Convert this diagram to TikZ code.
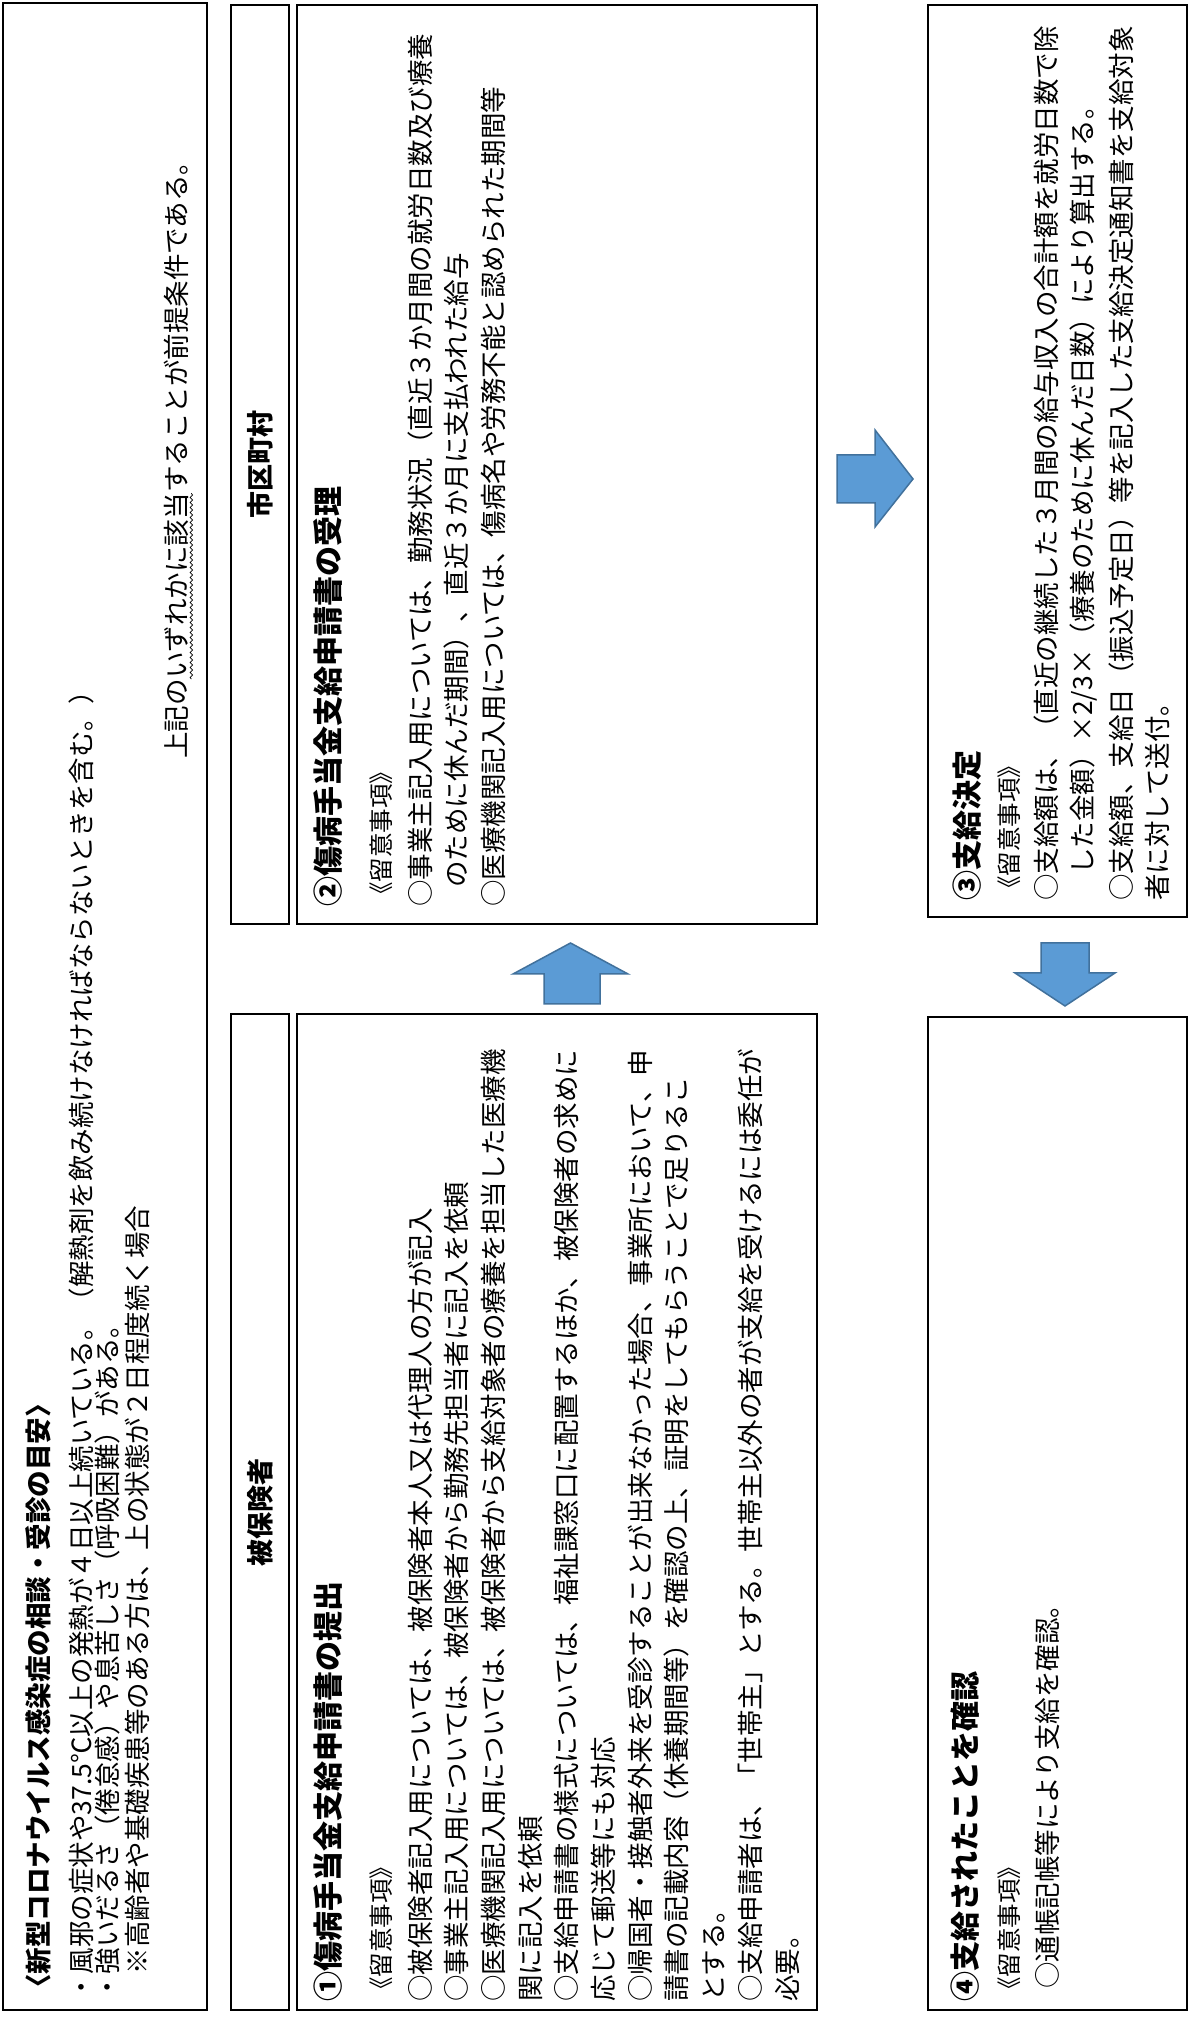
\documentclass[tikz,border=0pt]{standalone}
\usepackage{fontspec}
\newfontfamily\jp{Noto Sans CJK JP}
\usetikzlibrary{decorations.pathmorphing}
\definecolor{arrfill}{HTML}{5B9BD5}
\definecolor{arrline}{HTML}{41719C}
\tikzset{
  box/.style={draw, line width=1.6pt, inner sep=0pt, anchor=south west},
  bodyt/.style={anchor=base west, inner sep=0pt, font=\jp\fontsize{26.5}{30}\selectfont},
  titlet/.style={anchor=base west, inner sep=0pt, font=\jp\bfseries\fontsize{30}{34}\selectfont},
  infotitle/.style={anchor=base west, inner sep=0pt, font=\jp\bfseries\fontsize{26.5}{30}\selectfont},
  notet/.style={anchor=base west, inner sep=0pt, font=\jp\fontsize{24.5}{28}\selectfont},
  headt/.style={anchor=center, inner sep=0pt, font=\jp\bfseries\fontsize{27}{30}\selectfont},
  barrow/.style={fill=arrfill, draw=arrline, line width=1.5pt, line join=miter},
  wavy/.style={decorate, decoration={snake, amplitude=1.2pt, segment length=5pt}, line width=0.7pt}
}
\begin{document}
\begin{tikzpicture}[x=1pt,y=1pt]
\begin{scope}[shift={(1193,0)}, rotate=90, transform shape]
  \fill[white] (0,0) rectangle (2021,1193);
  \useasboundingbox (0,0) rectangle (2021,1193);

  % boxes
  \node[box, minimum width=2007, minimum height=204] (info) at (10,985) {};
  \node[box, minimum width=919, minimum height=58] (h2) at (1096,903) {};
  \node[box, minimum width=919, minimum height=520] (b2) at (1096,375) {};
  \node[box, minimum width=996, minimum height=58] (h1) at (10,903) {};
  \node[box, minimum width=996, minimum height=520] (b1) at (10,375) {};
  \node[box, minimum width=912, minimum height=259] (b3) at (1103,5) {};
  \node[box, minimum width=993, minimum height=259] (b4) at (10,5) {};

  % info box text
  \node[infotitle] (i0) at (20,1145) {〈新型コロナウイルス感染症の相談・受診の目安〉};
  \node[bodyt] (i1) at (20,1102) {・風邪の症状や37.5℃以上の発熱が４日以上続いている。（解熱剤を飲み続けなければならないときを含む。）};
  \node[bodyt] (i2) at (20,1076) {・強いだるさ（倦怠感）や息苦しさ（呼吸困難）がある。};
  \node[bodyt] (i3) at (20,1046) {　※高齢者や基礎疾患等のある方は、上の状態が２日程度続く場合};
  \node[bodyt] (u1) at (1262,1007) {上記の};
  \node[bodyt, inner ysep=3pt] (u2) at (u1.base east) {いずれかに該当};
  \node[bodyt] (u3) at (u2.base east) {することが前提条件である。};
  \draw[wavy] (u2.south west) -- (u2.south east);

  % headers
  \node[headt] (h2t) at (h2.center) {市区町村};
  \node[headt] (h1t) at (h1.center) {被保険者};

  % box 1
  \node[titlet] (a0) at (19,854) {①傷病手当金支給申請書の提出};
  \node[notet] (a1) at (19,803) {《留意事項》};
  \node[bodyt] (a2) at (19,763) {○被保険者記入用については、被保険者本人又は代理人の方が記入};
  \node[bodyt] (a3) at (19,726.3) {○事業主記入用については、被保険者から勤務先担当者に記入を依頼};
  \node[bodyt] (a4) at (19,689.6) {○医療機関記入用については、被保険者から支給対象者の療養を担当した医療機};
  \node[bodyt] (a5) at (19,652.9) {関に記入を依頼};
  \node[bodyt] (a6) at (19,616.2) {○支給申請書の様式については、福祉課窓口に配置するほか、被保険者の求めに};
  \node[bodyt] (a7) at (19,579.5) {応じて郵送等にも対応};
  \node[bodyt] (a8) at (19,542.8) {○帰国者・接触者外来を受診することが出来なかった場合、事業所において、申};
  \node[bodyt] (a9) at (19,506.1) {請書の記載内容（休養期間等）を確認の上、証明をしてもらうことで足りるこ};
  \node[bodyt] (a10) at (19,469.4) {とする。};
  \node[bodyt] (a11) at (19,432.7) {○支給申請者は、「世帯主」とする。世帯主以外の者が支給を受けるには委任が};
  \node[bodyt] (a12) at (19,396) {必要。};

  % box 2
  \node[titlet] (c0) at (1114,854) {②傷病手当金支給申請書の受理};
  \node[notet] (c1) at (1114,803) {《留意事項》};
  \node[bodyt] (c2) at (1114,763) {○事業主記入用については、勤務状況（直近３か月間の就労日数及び療養};
  \node[bodyt] (c3) at (1133,726.3) {のために休んだ期間）、直近３か月に支払われた給与};
  \node[bodyt] (c4) at (1114,689.6) {○医療機関記入用については、傷病名や労務不能と認められた期間等};

  % box 3
  \node[titlet] (d0) at (1120,215) {③支給決定};
  \node[notet] (d1) at (1120,175) {《留意事項》};
  \node[bodyt] (d2) at (1120,137) {○支給額は、（直近の継続した３月間の給与収入の合計額を就労日数で除};
  \node[bodyt] (d3) at (1146,101) {した金額）×2/3×（療養のために休んだ日数）により算出する。};
  \node[bodyt] (d4) at (1120,62) {○支給額、支給日（振込予定日）等を記入した支給決定通知書を支給対象};
  \node[bodyt] (d5) at (1120,26) {者に対して送付。};

  % box 4
  \node[titlet] (e0) at (19,217) {④支給されたことを確認};
  \node[notet] (e1) at (19,175) {《留意事項》};
  \node[bodyt] (e2) at (32,136) {○通帳記帳等により支給を確認。};

  % block arrows
  \draw[barrow] (1017,593) -- (1047,593) -- (1047,565) -- (1078,622.5) -- (1047,680) -- (1047,649) -- (1017,649) -- cycle;
  \draw[barrow] (1518,356) -- (1518,318) -- (1494,318) -- (1542,280) -- (1591,318) -- (1566,318) -- (1566,356) -- cycle;
  \draw[barrow] (1078,104) -- (1048,104) -- (1048,78) -- (1015,128) -- (1048,178) -- (1048,152) -- (1078,152) -- cycle;
\end{scope}
\end{tikzpicture}
\end{document}
